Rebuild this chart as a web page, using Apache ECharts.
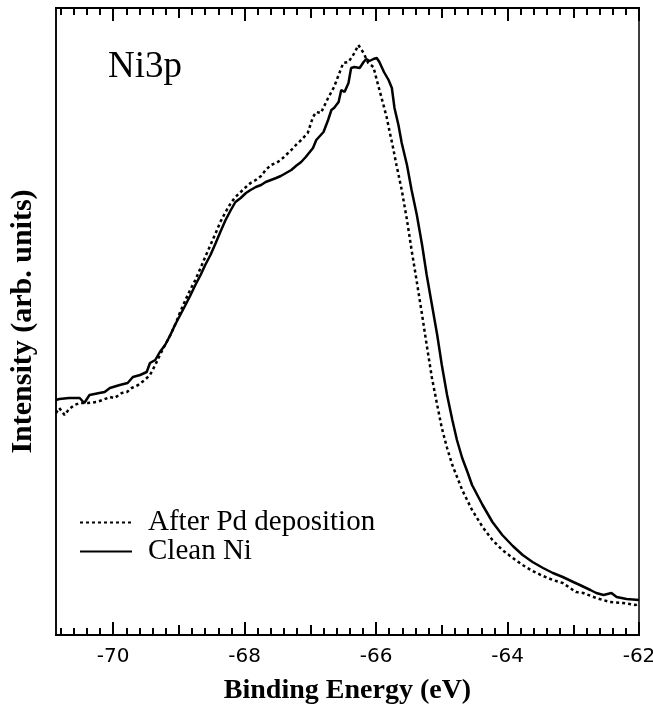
<!DOCTYPE html>
<html style="height: 100%">
<head>
	<meta charset="utf-8">
</head>
<body style="height: 100%; margin: 0; background: #fff">
<div id="container" style="width: 653px; height: 706px"></div>
<script type="text/javascript" src="https://cdn.jsdelivr.net/npm/echarts@6/dist/echarts.min.js"></script>
<script type="text/javascript">
    // Ni 3p spectra, binding energy (eV) vs intensity (arb. units)
    var cleanEnergy = [-70.87, -70.82, -70.67, -70.51, -70.44, -70.36, -70.21, -70.13, -70.05, -69.90,
        -69.78, -69.70, -69.59, -69.49, -69.44, -69.36, -69.29, -69.21, -69.13, -69.06,
        -68.98, -68.90, -68.83, -68.75, -68.67, -68.60, -68.52, -68.44, -68.37, -68.29,
        -68.21, -68.14, -68.06, -67.98, -67.91, -67.83, -67.75, -67.68, -67.60, -67.52,
        -67.45, -67.37, -67.29, -67.22, -67.14, -67.07, -66.96, -66.91, -66.80, -66.73,
        -66.68, -66.64, -66.57, -66.53, -66.48, -66.42, -66.38, -66.33, -66.25, -66.19,
        -66.15, -66.10, -66.04, -65.99, -65.95, -65.88, -65.81, -65.76, -65.72, -65.66,
        -65.61, -65.53, -65.46, -65.38, -65.30, -65.23, -65.15, -65.07, -65.00, -64.92,
        -64.84, -64.77, -64.69, -64.61, -64.54, -64.38, -64.23, -64.08, -63.92, -63.77,
        -63.62, -63.46, -63.31, -63.16, -63.00, -62.90, -62.74, -62.65, -62.54, -62.42,
        -62.34, -62.19, -62.00];
    var cleanIntensity = [235, 236, 237, 237, 232, 240, 242, 243, 247, 250,
        252, 258, 260, 263, 272, 275, 283, 290, 300, 310,
        320, 330, 339, 350, 360, 370, 380, 392, 403, 415,
        425, 433, 437, 442, 445, 448, 450, 453, 455, 457,
        459, 462, 465, 469, 473, 478, 487, 495, 503, 515,
        525, 527, 533, 545, 543, 552, 567, 568, 567, 573,
        576, 574, 576, 577, 573, 563, 555, 547, 527, 510,
        492, 470, 445, 420, 390, 360, 330, 300, 270, 240,
        215, 195, 177, 163, 150, 130, 113, 100, 89, 80,
        73, 67, 62, 58, 53, 50, 45, 42, 40, 42,
        38, 36, 35];

    var afterEnergy = [-70.87, -70.82, -70.74, -70.67, -70.59, -70.51, -70.39, -70.25, -70.16, -70.05,
        -69.98, -69.87, -69.79, -69.72, -69.62, -69.52, -69.44, -69.36, -69.29, -69.21,
        -69.13, -69.06, -68.98, -68.90, -68.83, -68.75, -68.67, -68.60, -68.52, -68.44,
        -68.37, -68.29, -68.21, -68.14, -68.06, -67.98, -67.91, -67.83, -67.75, -67.68,
        -67.60, -67.52, -67.45, -67.37, -67.29, -67.22, -67.14, -67.04, -66.96, -66.91,
        -66.84, -66.73, -66.64, -66.50, -66.42, -66.33, -66.27, -66.19, -66.12, -66.04,
        -65.99, -65.92, -65.84, -65.79, -65.75, -65.69, -65.61, -65.53, -65.46, -65.38,
        -65.30, -65.23, -65.15, -65.07, -65.00, -64.92, -64.84, -64.69, -64.54, -64.38,
        -64.23, -64.08, -63.92, -63.77, -63.62, -63.46, -63.31, -63.16, -62.96, -62.85,
        -62.65, -62.44, -62.24, -62.05, -62.00];
    var afterIntensity = [222, 227, 220, 226, 230, 232, 232, 233, 235, 238,
        237, 242, 243, 247, 250, 255, 260, 270, 280, 290,
        300, 310, 323, 335, 345, 355, 367, 378, 390, 402,
        413, 423, 432, 438, 443, 448, 452, 455, 459, 465,
        470, 472, 475, 480, 485, 490, 495, 502, 518, 523,
        522, 537, 548, 572, 573, 582, 590, 582, 572, 568,
        555, 538, 518, 502, 490, 470, 445, 415, 385, 353,
        320, 290, 257, 230, 207, 187, 170, 145, 125, 108,
        95, 85, 77, 70, 64, 59, 55, 52, 43, 42,
        37, 33, 32, 30, 32];

    var xMin = -70.87, xMax = -62;
    var majorTicks = [-70, -68, -66, -64, -62];
    var midTicks = [-69, -67, -65, -63];
    var minorTicks = [];
    for (var k = -354; k <= -310; k++) {
        minorTicks.push(+(k * 0.2).toFixed(1));
    }

    function pairs(xs, ys) {
        return xs.map(function (x, i) { return [x, ys[i]]; });
    }

    function tickAxis(pos, ticks, len, showLabel) {
        return {
            type: 'value',
            position: pos,
            min: xMin,
            max: xMax,
            splitLine: {show: false},
            axisLine: {show: true, onZero: false, lineStyle: {color: '#000', width: 2}},
            axisTick: {
                show: true, inside: true, length: len, customValues: ticks,
                lineStyle: {color: '#000', width: 2}
            },
            axisLabel: showLabel ? {
                show: true, customValues: ticks, margin: 12,
                color: '#000', fontFamily: 'DejaVu Sans', fontSize: 20
            } : {show: false},
            name: (pos === 'bottom' && showLabel) ? 'Binding Energy (eV)' : '',
            nameLocation: 'middle',
            nameGap: 42,
            nameTextStyle: {
                color: '#000', fontFamily: 'Liberation Serif', fontWeight: 'bold', fontSize: 28
            }
        };
    }

    var dom = document.getElementById('container');
    var myChart = echarts.init(dom);
    var option = {
        backgroundColor: '#fff',
        animation: false,
        grid: {
            left: 56, right: 14, top: 8, bottom: 71,
            outerBoundsMode: 'none',
            show: true, borderColor: '#000', borderWidth: 1.5
        },
        title: {
            text: 'Ni3p',
            left: 103,
            top: 44,
            textStyle: {color: '#000', fontFamily: 'Liberation Serif', fontWeight: 'normal', fontSize: 37}
        },
        legend: {
            orient: 'vertical',
            left: 74,
            top: 503,
            itemWidth: 52,
            itemHeight: 10,
            itemGap: 0,
            data: ['After Pd deposition', 'Clean Ni'],
            itemStyle: {opacity: 0},
            lineStyle: {width: 2},
            textStyle: {
                color: '#000', fontFamily: 'Liberation Serif', fontSize: 29,
                lineHeight: 26, padding: [0, 0, 0, 11]
            }
        },
        xAxis: [
            tickAxis('bottom', majorTicks, 13, true),
            tickAxis('bottom', midTicks, 10, false),
            tickAxis('bottom', minorTicks, 7, false),
            tickAxis('top', majorTicks, 13, false),
            tickAxis('top', midTicks, 10, false),
            tickAxis('top', minorTicks, 7, false)
        ],
        yAxis: {
            type: 'value',
            min: 0,
            max: 627,
            splitLine: {show: false},
            axisTick: {show: false},
            axisLabel: {show: false},
            axisLine: {show: true, lineStyle: {color: '#000', width: 1.5}},
            name: 'Intensity (arb. units)',
            nameLocation: 'middle',
            nameGap: 18,
            nameTextStyle: {
                color: '#000', fontFamily: 'Liberation Serif', fontWeight: 'bold', fontSize: 30
            }
        },
        series: [{
            name: 'After Pd deposition',
            type: 'line',
            xAxisIndex: 0,
            symbol: 'none',
            data: pairs(afterEnergy, afterIntensity),
            lineStyle: {color: '#000', width: 2.5, type: [3, 3]},
            itemStyle: {color: '#000'}
        }, {
            name: 'Clean Ni',
            type: 'line',
            xAxisIndex: 0,
            symbol: 'none',
            data: pairs(cleanEnergy, cleanIntensity),
            lineStyle: {color: '#000', width: 2.5, type: 'solid'},
            itemStyle: {color: '#000'}
        }]
    };
    myChart.setOption(option);
</script>
</body>
</html>
